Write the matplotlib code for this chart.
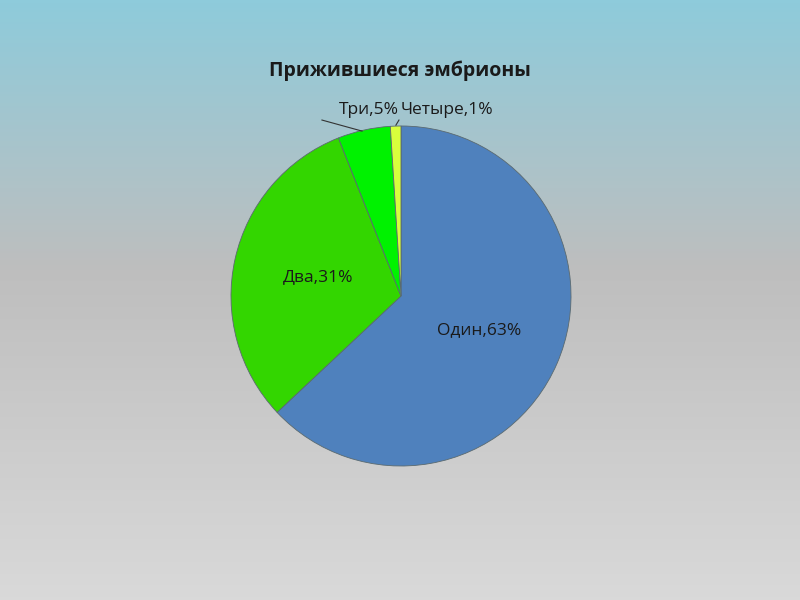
import matplotlib
matplotlib.use('Agg')
from matplotlib import pyplot as plt
from matplotlib.colors import LinearSegmentedColormap
import numpy as np

plt.rcParams['font.family'] = ['Open Sans', 'DejaVu Sans']

# data
title = 'Прижившиеся эмбрионы'
categories = ['Один', 'Два', 'Три', 'Четыре']
shares = [63, 31, 5, 1]
colors = ['#4F81BD', '#33D600', '#00F200', '#D8FF3C']

fig = plt.figure(figsize=(8, 6), dpi=100)

# background gradient (blue top -> grey bottom)
bg = fig.add_axes([0, 0, 1, 1])
bg_cmap = LinearSegmentedColormap.from_list(
    'bg', [(0.0, '#8ECBDB'), (0.45, '#BEBEBE'), (1.0, '#D9D9D9')])
bg.imshow(np.linspace(0, 1, 600).reshape(-1, 1), aspect='auto', cmap=bg_cmap,
          extent=[0, 1, 0, 1], origin='upper')
bg.axis('off')

fig.text(0.5, 1 - 71 / 600, title, ha='center', va='center',
         fontsize=14, fontweight='bold', color='#1a1a1a')

ax = fig.add_axes([231 / 800, 134 / 600, 340 / 800, 340 / 600])
ax.set_facecolor('none')
labels = [f'{c},{s}%' for c, s in zip(categories, shares)]
wedges, texts = ax.pie(shares, colors=colors, startangle=90, counterclock=False,
                       labels=[labels[0], labels[1], '', ''], labeldistance=0.5,
                       wedgeprops=dict(edgecolor='#5a6a70', linewidth=0.6),
                       textprops=dict(fontsize=12.5, color='#1a1a1a'))
for t in texts:
    t.set_ha('center')
    t.set_va('center')

# small slices: labels outside with leader lines
ax.text(-0.01, 1.094, labels[2], ha='right', va='center', fontsize=12.5,
        color='#1a1a1a')
ax.text(0.0, 1.094, labels[3], ha='left', va='center', fontsize=12.5,
        color='#1a1a1a')
ax.plot([-0.465, -0.229], [1.035, 0.97], color='#333333', lw=0.8, clip_on=False)
ax.plot([-0.03, -0.012], [1.005, 1.035], color='#333333', lw=0.8, clip_on=False)
ax.set_xlim(-1, 1)
ax.set_ylim(-1, 1)
ax.set_aspect('equal')

plt.savefig('out.png', dpi=100)
